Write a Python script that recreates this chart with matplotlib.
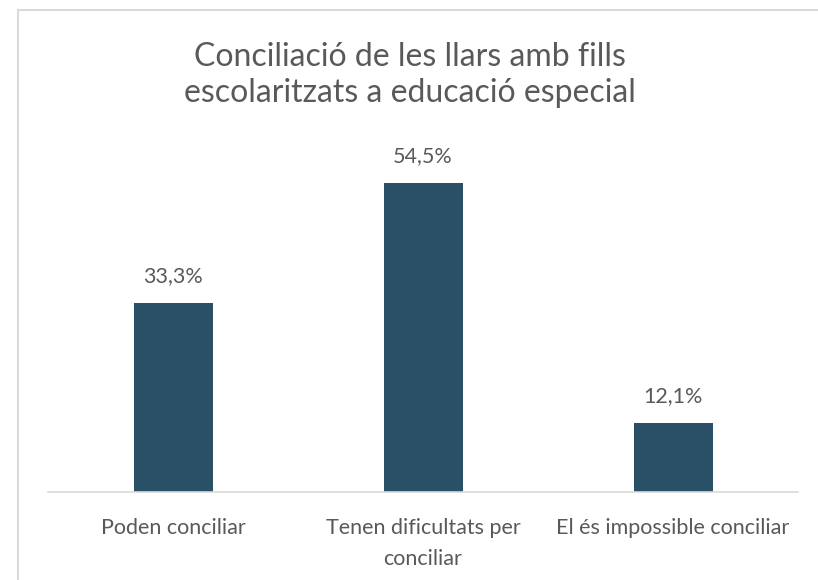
import matplotlib.pyplot as plt
from matplotlib.lines import Line2D

# Data
categories = ["Poden conciliar", "Tenen dificultats per\nconciliar", "El és impossible conciliar"]
values = [33.3, 54.5, 12.1]
title = "Conciliació de les llars amb fills\nescolaritzats a educació especial"

plt.rcParams['font.family'] = ['Lato', 'DejaVu Sans']

fig = plt.figure(figsize=(8.18, 5.8), dpi=100)
ax = fig.add_axes([48/818, 88/580, 750/818, 340/580])

x = range(len(categories))
bars = ax.bar(x, values, width=0.316, color="#2A5067")

for b, v in zip(bars, values):
    ax.text(b.get_x() + b.get_width()/2, v + 3.0, f"{v:.1f}%".replace(".", ","),
            ha="center", va="bottom", fontsize=15.5, color="#595959")

ax.set_xlim(-0.5, 2.5)
ax.set_ylim(0, 60)
ax.set_xticks(list(x))
ax.set_xticklabels(categories, fontsize=15.5, color="#595959", linespacing=1.65)
ax.tick_params(axis="x", length=0, pad=19)
ax.set_yticks([])
for s in ["top", "right", "left"]:
    ax.spines[s].set_visible(False)
ax.spines["bottom"].set_color("#D9D9D9")
ax.spines["bottom"].set_linewidth(1.2)

fig.text(410/818, 1 - 75/580, title, ha="center", va="center", fontsize=23,
         color="#595959", linespacing=1.25)

# outer chart border (top and left edges visible)
fig.add_artist(Line2D([18/818, 1], [1 - 10/580, 1 - 10/580], transform=fig.transFigure,
                      color="#D9D9D9", lw=1.5))
fig.add_artist(Line2D([18/818, 18/818], [0, 1 - 10/580], transform=fig.transFigure,
                      color="#D9D9D9", lw=1.5))

fig.savefig("out.png", dpi=100)
